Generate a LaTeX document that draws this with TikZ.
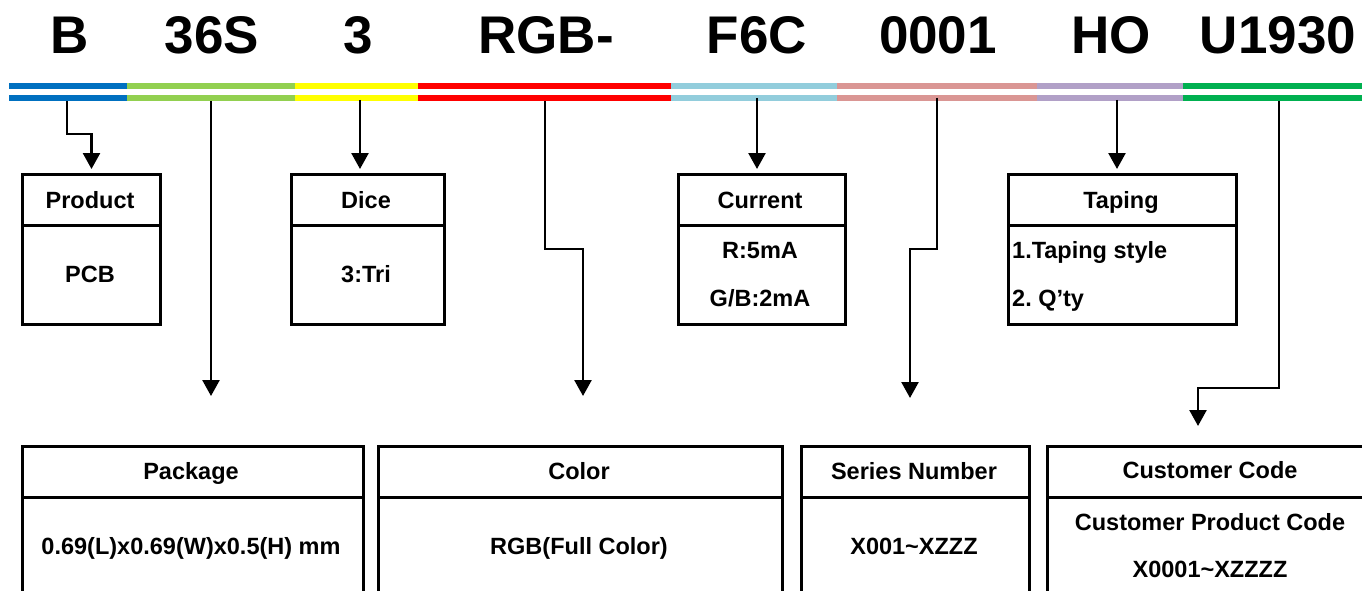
\documentclass[tikz,border=0pt]{standalone}
\usepackage{fontspec}
\setmainfont{Liberation Sans}
\usetikzlibrary{arrows.meta}
\definecolor{cBlue}{HTML}{0070C0}
\definecolor{cGreenL}{HTML}{92D050}
\definecolor{cYellow}{HTML}{FFFF00}
\definecolor{cRed}{HTML}{FF0000}
\definecolor{cAqua}{HTML}{92CDDC}
\definecolor{cPink}{HTML}{DA9694}
\definecolor{cPurple}{HTML}{B1A0C7}
\definecolor{cGreen}{HTML}{00B050}
\frenchspacing
\tikzset{
  bar/.style={line width=6pt},
  code/.style={font=\fontsize{53}{60}\selectfont\bfseries, anchor=base, inner sep=0pt},
  txt/.style={font=\fontsize{23.5}{27}\selectfont\bfseries, anchor=base, inner sep=0pt},
  cell/.style={draw, line width=3pt, rectangle, anchor=north west, inner sep=0pt},
  conn/.style={line width=2.5pt, -{Triangle[width=17pt,length=16pt]}, shorten >=4pt},
  freeconn/.style={line width=2.5pt, -{Triangle[width=17pt,length=16pt]}},
}
\begin{document}
\begin{tikzpicture}[x=1pt,y=-1pt]
\useasboundingbox (0,0) rectangle (1362,591);
\clip (0,0) rectangle (1362,591);
% code text
\node[code] (tB) at (70,54) {B};
\node[code] (t36S) at (212,54) {36S};
\node[code] (t3) at (358,54) {3};
\node[code] (tRGB) at (546,54) {RGB-};
\node[code] (tF6C) at (757,54) {F6C};
\node[code] (t0001) at (938,54) {0001};
\node[code] (tHO) at (1111,54) {HO};
\node[code] (tU) at (1278,54) {U1930};
% bars
\foreach \y in {86,98}{
  \draw[bar,cBlue] (9,\y) -- (127,\y);
  \draw[bar,cGreenL] (127,\y) -- (295,\y);
  \draw[bar,cYellow] (295,\y) -- (418,\y);
  \draw[bar,cRed] (418,\y) -- (671,\y);
  \draw[bar,cAqua] (671,\y) -- (837,\y);
  \draw[bar,cPink] (837,\y) -- (1037,\y);
  \draw[bar,cPurple] (1037,\y) -- (1183,\y);
  \draw[bar,cGreen] (1183,\y) -- (1362,\y);
}
% top row boxes
\node[cell, minimum width=138pt, minimum height=51pt] (hProd) at (21,173) {};
\node[cell, minimum width=138pt, minimum height=99pt] (bProd) at (21,224) {};
\node[cell, minimum width=153pt, minimum height=51pt] (hDice) at (290,173) {};
\node[cell, minimum width=153pt, minimum height=99pt] (bDice) at (290,224) {};
\node[cell, minimum width=167pt, minimum height=51pt] (hCur) at (677,173) {};
\node[cell, minimum width=167pt, minimum height=99pt] (bCur) at (677,224) {};
\node[cell, minimum width=228pt, minimum height=51pt] (hTap) at (1007,173) {};
\node[cell, minimum width=228pt, minimum height=99pt] (bTap) at (1007,224) {};
\node[txt] (lProd) at (90,208) {Product};
\node[txt] (vProd) at (90,282) {PCB};
\node[txt] (lDice) at (366,208) {Dice};
\node[txt] (vDice) at (366,282) {3:Tri};
\node[txt] (lCur) at (760,208) {Current};
\node[txt] (vCur1) at (760,258) {R:5mA};
\node[txt] (vCur2) at (760,306) {G/B:2mA};
\node[txt] (lTap) at (1121,208) {Taping};
\node[txt, anchor=base west] (vTap1) at (1012,258) {1.Taping style};
\node[txt, anchor=base west] (vTap2) at (1012,306) {2. Q’ty};
% bottom row boxes
\node[cell, minimum width=341pt, minimum height=51pt] (hPkg) at (21,445) {};
\node[cell, minimum width=341pt, minimum height=120pt] (bPkg) at (21,496) {};
\node[cell, minimum width=404pt, minimum height=51pt] (hCol) at (377,445) {};
\node[cell, minimum width=404pt, minimum height=120pt] (bCol) at (377,496) {};
\node[cell, minimum width=228pt, minimum height=51pt] (hSer) at (800,445) {};
\node[cell, minimum width=228pt, minimum height=120pt] (bSer) at (800,496) {};
\node[cell, minimum width=340pt, minimum height=51pt] (hCus) at (1046,445) {};
\node[cell, minimum width=340pt, minimum height=120pt] (bCus) at (1046,496) {};
\node[txt] (lPkg) at (191,479) {Package};
\node[txt] (vPkg) at (191,554) {0.69(L)x0.69(W)x0.5(H) mm};
\node[txt] (lCol) at (579,479) {Color};
\node[txt] (vCol) at (579,554) {RGB(Full Color)};
\node[txt] (lSer) at (914,479) {Series Number};
\node[txt] (vSer) at (914,554) {X001\char`\~XZZZ};
\node[txt] (lCus) at (1210,478) {Customer Code};
\node[txt] (vCus1) at (1210,530) {Customer Product Code};
\node[txt] (vCus2) at (1210,577) {X0001\char`\~XZZZZ};
% connector start points and free ends
\coordinate (sB) at (67,101);
\coordinate (s36S) at (211,101);
\coordinate (s3) at (360,100);
\coordinate (sRGB) at (545,101);
\coordinate (sF6C) at (757,98);
\coordinate (s0001) at (937,98);
\coordinate (sHO) at (1117,100);
\coordinate (sU) at (1279,101);
\coordinate (e36S) at (211,396);
\coordinate (eRGB) at (583,396);
\coordinate (e0001) at (910,398);
\coordinate (eU) at (1198,426);
% connectors
\draw[conn] (sB) -- (67,134) -| (hProd.north);
\draw[freeconn] (s36S) -- (e36S);
\draw[conn] (s3) -- (s3 |- hDice.north);
\draw[freeconn] (sRGB) -- (545,249) -| (eRGB);
\draw[conn] (sF6C) -- (sF6C |- hCur.north);
\draw[freeconn] (s0001) -- (937,249) -| (e0001);
\draw[conn] (sHO) -- (sHO |- hTap.north);
\draw[freeconn] (sU) -- (1279,388) -| (eU);
\end{tikzpicture}
\end{document}
